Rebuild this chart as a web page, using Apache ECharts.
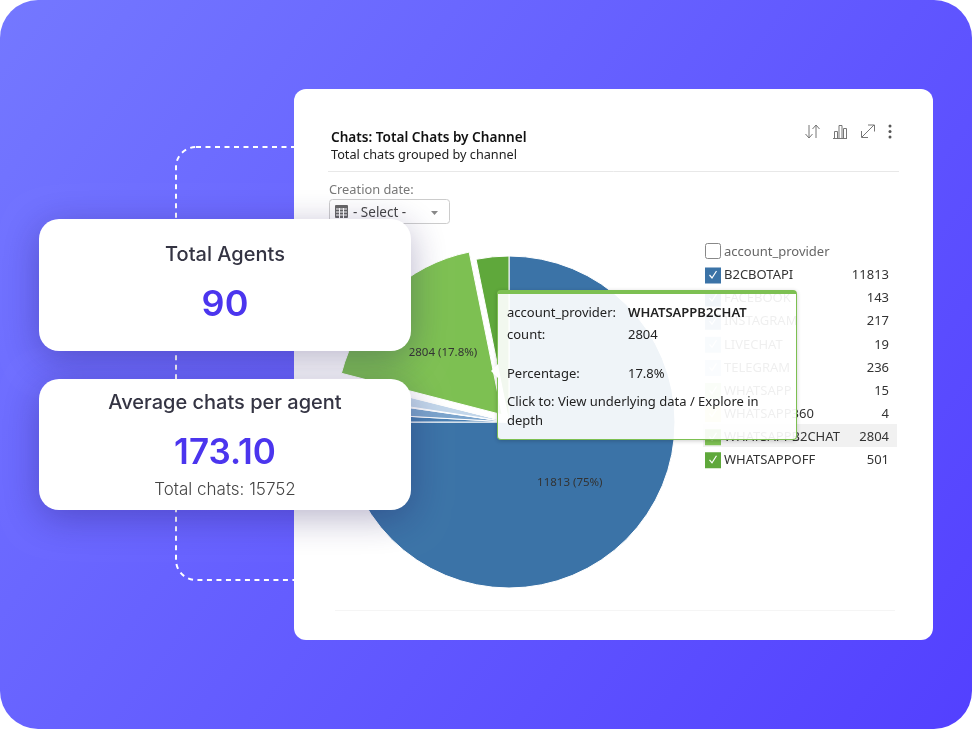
<!DOCTYPE html>
<html><head><meta charset="utf-8">
<style>html,body{margin:0;padding:0;background:#fff}#c{width:972px;height:729px}</style>
<script src="https://cdn.jsdelivr.net/npm/echarts@6/dist/echarts.min.js"></script>
</head><body><div id="c"></div>
<script>
const providers = ['B2CBOTAPI','FACEBOOK','INSTAGRAM','LIVECHAT','TELEGRAM','WHATSAPP','WHATSAPP360','WHATSAPPB2CHAT','WHATSAPPOFF'];
const counts = [11813,143,217,19,236,15,4,2804,501];
const colors = ['#3b73a7','#4a7fb2','#7ba4cc','#a9c5df','#c2d6ea','#c3e0a6','#f3efa0','#7dc052','#5fa83b'];
const labelled = ['B2CBOTAPI','WHATSAPPB2CHAT'];
const selectedProvider = 'WHATSAPPB2CHAT';
const kpiTitles = ['Total Agents','Average chats per agent'];
const kpiValues = ['90','173.10'];
const kpiNote = 'Total chats: 15752';

const SANS = '"Noto Sans", "Open Sans", sans-serif';
const TIPFONT = "'Noto Sans', 'Open Sans', sans-serif";
const POP = 'Inter, "Noto Sans", sans-serif';
let order = 0;
const G = [];
const add = (z, o) => { o.z = z; o.z2 = ++order; G.push(o); };
const line = (z, x1, y1, x2, y2, stroke, w) => add(z, {type:'line', shape:{x1,y1,x2,y2}, style:{stroke, lineWidth:w||1}});
const text = (z, x, y, t, font, fill, align) => add(z, {type:'text', style:{x, y, text:t, font, fill, textAlign:align||'left', textVerticalAlign:'middle'}});

// backdrop
add(0, {type:'rect', shape:{x:0,y:0,width:972,height:729,r:38}, style:{fill:new echarts.graphic.LinearGradient(0,0,1,1,[{offset:0,color:'#7478ff'},{offset:1,color:'#5340ff'}])}});
add(0, {type:'rect', shape:{x:176,y:147,width:300,height:433,r:20}, style:{fill:'none', stroke:'#fff', lineWidth:2, lineDash:[5,4.5]}});
add(0, {type:'rect', shape:{x:294,y:89,width:639,height:551,r:12}, style:{fill:'#fff'}});
// panel header
text(0, 331, 138, 'Chats: Total Chats by Channel', '600 13.6px '+SANS, '#111');
text(0, 331, 155, 'Total chats grouped by channel', '12.7px '+SANS, '#222');
line(0, 328, 171.5, 899, 171.5, '#e8e8e8');
text(0, 329, 190, 'Creation date:', '12.8px '+SANS, '#777');
add(0, {type:'rect', shape:{x:329.5,y:199.5,width:120,height:24,r:3}, style:{fill:'#fff', stroke:'#ccc'}});
add(0, {type:'rect', shape:{x:335,y:205,width:13,height:13,r:1}, style:{fill:'#666'}});
for (let i=0;i<3;i++) line(0, 336, 209+i*3, 347, 209+i*3, '#fff');
for (let i=0;i<2;i++) line(0, 339.5+i*4, 208, 339.5+i*4, 218, '#fff');
text(0, 353, 213, '- Select -', '13.5px '+SANS, '#444');
add(0, {type:'polygon', shape:{points:[[431,211],[438,211],[434.5,215]]}, style:{fill:'#888'}});
// toolbar icons
const ic = '#777';
line(0, 809, 125, 809, 138, ic); line(0, 805.5, 134, 809, 138, ic); line(0, 812.5, 134, 809, 138, ic);
line(0, 816, 125, 816, 138, ic); line(0, 812.5, 129, 816, 125, ic); line(0, 819.5, 129, 816, 125, ic);
line(0, 833, 138.5, 847, 138.5, ic);
[[834,131,3],[838.5,125,3],[843,128,3]].forEach(b=>add(0,{type:'rect',shape:{x:b[0]+.5,y:b[1]+.5,width:b[2],height:138-b[1]},style:{fill:'none',stroke:ic}}));
line(0, 862, 137, 874, 125, ic);
add(0,{type:'polyline',shape:{points:[[868,125],[874.5,125],[874.5,131.5]]},style:{fill:'none',stroke:ic}});
add(0,{type:'polyline',shape:{points:[[861.5,131],[861.5,137.5],[868,137.5]]},style:{fill:'none',stroke:ic}});
[126,131.5,137].forEach(y=>add(0,{type:'circle',shape:{cx:890,cy:y,r:1.5},style:{fill:'#555'}}));
line(0, 335, 610.5, 895, 610.5, '#f5f5f5');
// legend furniture
add(1, {type:'rect', shape:{x:703,y:424,width:194,height:23}, style:{fill:'#f1f1f1'}});
add(1, {type:'rect', shape:{x:705.5,y:243.5,width:15,height:15,r:2}, style:{fill:'#fff', stroke:'#888'}});
text(1, 724, 252.5, 'account_provider', '13px '+SANS, '#666');
providers.forEach((p,i)=>{
  const y = 274.5 + i*23.1;
  add(9, {type:'polyline', shape:{points:[[709.5,y+.5],[712,y+3.5],[716.5,y-3.5]]}, style:{fill:'none', stroke:'#fff', lineWidth:1.2}});
});
// KPI cards
const shadow = {shadowBlur:36, shadowColor:'rgba(30,20,90,.32)', shadowOffsetY:8};
add(20, {type:'rect', shape:{x:39,y:219,width:372,height:132,r:20}, style:Object.assign({fill:'#fff'},shadow)});
add(20, {type:'rect', shape:{x:39,y:379,width:372,height:131,r:20}, style:Object.assign({fill:'#fff'},shadow)});
text(20, 225, 255, kpiTitles[0], '500 20px '+POP, '#343443', 'center');
text(20, 225, 305, kpiValues[0], '600 36px '+POP, '#4b35ee', 'center');
text(20, 225, 403, kpiTitles[1], '500 20px '+POP, '#343443', 'center');
text(20, 225, 453, kpiValues[1], '600 35px '+POP, '#4b35ee', 'center');
text(20, 225, 490, kpiNote, '300 17px '+POP, '#444', 'center');

const chart = echarts.init(document.getElementById('c'));
chart.setOption({
  animation:false,
  graphic:{elements:G},
  tooltip:{
    trigger:'item', triggerOn:'none', alwaysShowContent:true, transitionDuration:0,
    position:[497,290], padding:0, borderWidth:0, backgroundColor:'transparent', extraCssText:'box-shadow:none;',
    formatter:p=>`<div style="position:relative;box-sizing:border-box;width:300px;height:150px;background:rgba(255,255,255,.92);border:1px solid #7dc052;border-top:4px solid #7dc052;border-radius:4px;box-shadow:0 1px 4px rgba(0,0,0,.2);font:13px/19px ${TIPFONT};color:#222;white-space:normal">
      <div style="position:absolute;left:-7px;top:70px;width:0;height:0;border:7px solid transparent;border-left:0;border-right:7px solid #fff"></div>
      <div style="position:absolute;left:9px;top:9px">account_provider:</div><div style="position:absolute;left:130px;top:9px;font-weight:600">${p.name}</div>
      <div style="position:absolute;left:9px;top:31px">count:</div><div style="position:absolute;left:130px;top:31px">${p.value}</div>
      <div style="position:absolute;left:9px;top:70px">Percentage:</div><div style="position:absolute;left:130px;top:70px">${p.percent}%</div>
      <div style="position:absolute;left:9px;top:98px;width:285px">Click to: View underlying data / Explore in depth</div></div>`
  },
  legend:{
    orient:'vertical', left:705, top:267.5, padding:0, selectedMode:false, itemWidth:12, itemHeight:12, itemGap:7.1, z:4,
    data:providers.map((name,i)=>({name, icon:'rect', itemStyle:{color:colors[i], borderColor:colors[i], borderWidth:4, borderJoin:'miter'}})),
    formatter:n=>`{n|${n}}{v|${counts[providers.indexOf(n)]}}`,
    textStyle:{rich:{
      n:{width:115, fontFamily:'Noto Sans', fontSize:13, color:'#333', lineHeight:16},
      v:{width:50, align:'right', fontFamily:'Noto Sans', fontSize:13, color:'#333', lineHeight:16}
    }}
  },
  series:[{
    type:'pie', center:[509,422], radius:166, startAngle:90, clockwise:true, percentPrecision:1,
    selectedMode:'single', selectedOffset:10, avoidLabelOverlap:false, z:2,
    color:colors,
    labelLine:{show:false},
    data:providers.map((name,i)=>({
      name, value:counts[i], selected:name===selectedProvider,
      itemStyle:{color:colors[i], borderWidth:1, borderColor:'#fff'},
      label:{show:labelled.includes(name), position:'inside', formatter:'{c} ({d}%)', fontFamily:'Noto Sans', fontSize:11.5, color:'#333'}
    }))
  }]
});
chart.dispatchAction({type:'showTip', seriesIndex:0, dataIndex:providers.indexOf(selectedProvider)});
</script></body></html>
